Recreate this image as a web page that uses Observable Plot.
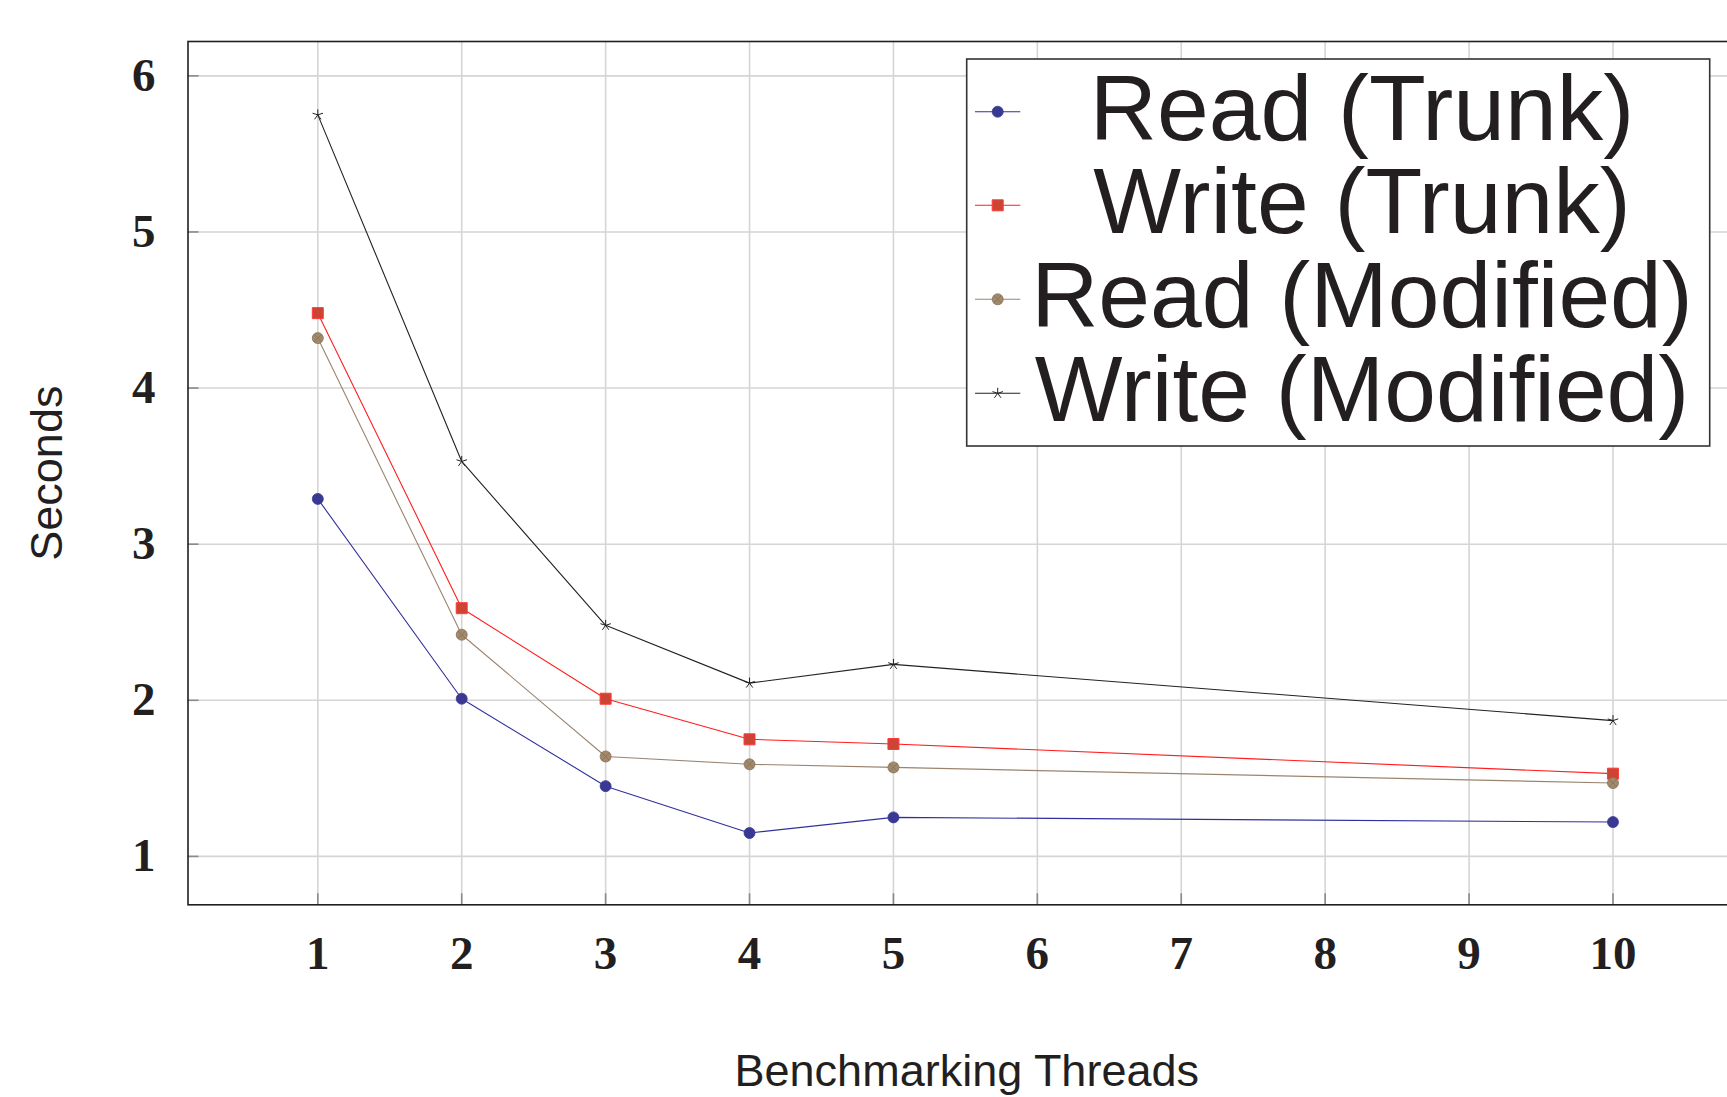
<!DOCTYPE html>
<html>
<head>
<meta charset="utf-8">
<script src="https://cdn.jsdelivr.net/npm/d3@7"></script>
<script src="https://cdn.jsdelivr.net/npm/@observablehq/plot@0.6"></script>
<style>
  html, body { margin: 0; padding: 0; overflow: hidden; background: #fff; }
  #wrap { position: relative; width: 1742px; height: 1097px; }
  #wrap svg { max-width: none !important; display: block; }
  #legend { position: absolute; left: 0; top: 0; pointer-events: none; }
</style>
</head>
<body>
<div id="wrap"></div>
<script>
// ---- data ----
const threads = [1, 2, 3, 4, 5, 10];
const seriesNames = ["Read (Trunk)", "Write (Trunk)", "Read (Modified)", "Write (Modified)"];
const readTrunk     = [3.29, 2.01, 1.45, 1.15, 1.25, 1.22];
const writeTrunk    = [4.48, 2.59, 2.01, 1.75, 1.72, 1.53];
const readModified  = [4.32, 2.42, 1.64, 1.59, 1.57, 1.47];
const writeModified = [5.75, 3.53, 2.48, 2.11, 2.23, 1.87];
const xTicks = [1, 2, 3, 4, 5, 6, 7, 8, 9, 10];
const yTicks = [1, 2, 3, 4, 5, 6];
const xLabel = "Benchmarking Threads";
const yLabel = "Seconds";

// ---- symbols ----
const rOf = (size) => Math.sqrt(size / Math.PI);
const squareSym = { draw(ctx, size) { const r = rOf(size); ctx.rect(-r, -r, 2 * r, 2 * r); } };
const circleSym = { draw(ctx, size) { const r = rOf(size); ctx.moveTo(r, 0); ctx.arc(0, 0, r, 0, 2 * Math.PI); } };
const otimesSym = { draw(ctx, size) {
  const r = rOf(size); ctx.moveTo(r, 0); ctx.arc(0, 0, r, 0, 2 * Math.PI);
  const d = r * 0.7071; ctx.moveTo(-d, -d); ctx.lineTo(d, d); ctx.moveTo(-d, d); ctx.lineTo(d, -d);
} };
const starSym = { draw(ctx, size) {
  const r = rOf(size);
  for (let k = 0; k < 5; k++) { const a = -Math.PI / 2 + k * 2 * Math.PI / 5; ctx.moveTo(0, 0); ctx.lineTo(r * Math.cos(a), r * Math.sin(a)); }
} };

const styles = [
  { line: "#30309c", fill: "#393993", stroke: "#393993", sym: circleSym, r: 5.5, sw: 0.8 },
  { line: "#ff1e1e", fill: "#cc4434", stroke: "#ff3a3a", sym: squareSym, r: 5.5, sw: 1 },
  { line: "#9a8470", fill: "#a2896a", stroke: "#857058", sym: otimesSym, r: 5.5, sw: 0.8 },
  { line: "#222222", fill: "none", stroke: "#222222", sym: starSym, r: 5.5, sw: 1 }
];
const valuesList = [readTrunk, writeTrunk, readModified, writeModified];

const rows = [];
seriesNames.forEach((name, si) => threads.forEach((t, i) => rows.push({ series: name, si, x: t, y: valuesList[si][i] })));

const serif = "'Liberation Serif', 'Times New Roman', serif";
const sans = "'Liberation Sans', Arial, Helvetica, sans-serif";
const marks = [
  Plot.gridX(xTicks, { stroke: "#d5d5d5", strokeOpacity: 1, strokeWidth: 1.6 }),
  Plot.gridY(yTicks, { stroke: "#d5d5d5", strokeOpacity: 1, strokeWidth: 1.6 }),
  Plot.axisY(yTicks, { tickSize: -11, text: null, stroke: "#8a8a8a", strokeWidth: 1.6, label: null }),
  Plot.axisX(xTicks, { tickSize: -11, text: null, stroke: "#8a8a8a", strokeWidth: 1.6, label: null }),
  Plot.axisY(yTicks, { tickSize: 0, tickPadding: 32.5, fontSize: 47, fontWeight: "bold", tickFormat: d3.format("d"),
    fontFamily: serif, fill: "#231f20", label: null }),
  Plot.axisX(xTicks, { tickSize: 0, tickPadding: 31, fontSize: 47, fontWeight: "bold", tickFormat: d3.format("d"),
    fontFamily: serif, fill: "#231f20", label: null })
];
styles.forEach((st, si) => {
  const data = rows.filter(d => d.si === si);
  marks.push(Plot.line(data, { x: "x", y: "y", stroke: st.line, strokeWidth: 1.1 }));
  marks.push(Plot.dot(data, { x: "x", y: "y", symbol: st.sym, r: st.r, fill: st.fill, stroke: st.stroke, strokeWidth: st.sw }));
});
marks.push(
  Plot.text([yLabel], { text: d => d, frameAnchor: "left", textAnchor: "middle", lineAnchor: "middle",
    rotate: -90, dx: -140, fontSize: 45, fontFamily: sans, fill: "#231f20" }),
  Plot.text([xLabel], { text: d => d, frameAnchor: "bottom", textAnchor: "middle", lineAnchor: "middle",
    dy: 166.5, dx: 1.5, fontSize: 45, fontFamily: sans, fill: "#231f20" }),
  Plot.frame({ stroke: "#231f20", strokeWidth: 1.6 })
);

const chart = Plot.plot({
  width: 1742,
  height: 1097,
  marginLeft: 187.5,
  marginRight: 0,
  marginTop: 41,
  marginBottom: 192.7,
  x: { domain: [0.098, 10.9] },
  y: { domain: [0.69, 6.22] },
  style: { maxWidth: "none", background: "white", overflow: "visible" },
  marks
});
const wrap = document.getElementById("wrap");
wrap.appendChild(chart);

// ---- legend overlay ----
const lg = d3.select(wrap).append("svg").attr("id", "legend").attr("width", 1742).attr("height", 1097);
const box = { x: 966.7, y: 59, w: 743, h: 387 };
lg.append("rect").attr("x", box.x).attr("y", box.y).attr("width", box.w).attr("height", box.h)
  .attr("fill", "white").attr("stroke", "#333").attr("stroke-width", 1.6);
const rowY = [111.7, 205.3, 299.3, 393.3];
seriesNames.forEach((name, si) => {
  const st = styles[si];
  const g = lg.append("g").attr("transform", `translate(997.7,${rowY[si]})`);
  g.append("line").attr("x1", -22.7).attr("x2", 22.6).attr("y1", 0).attr("y2", 0)
    .attr("stroke", st.line).attr("stroke-width", 1.1);
  const p = d3.path(); st.sym.draw(p, Math.PI * st.r * st.r);
  g.append("path").attr("d", p.toString()).attr("fill", st.fill).attr("stroke", st.stroke).attr("stroke-width", st.sw);
  lg.append("text").attr("x", 1362).attr("y", rowY[si] + 28).attr("text-anchor", "middle")
    .attr("font-family", sans).attr("font-size", 93)
    .attr("fill", "#231f20").text(name);
});
</script>
</body>
</html>
